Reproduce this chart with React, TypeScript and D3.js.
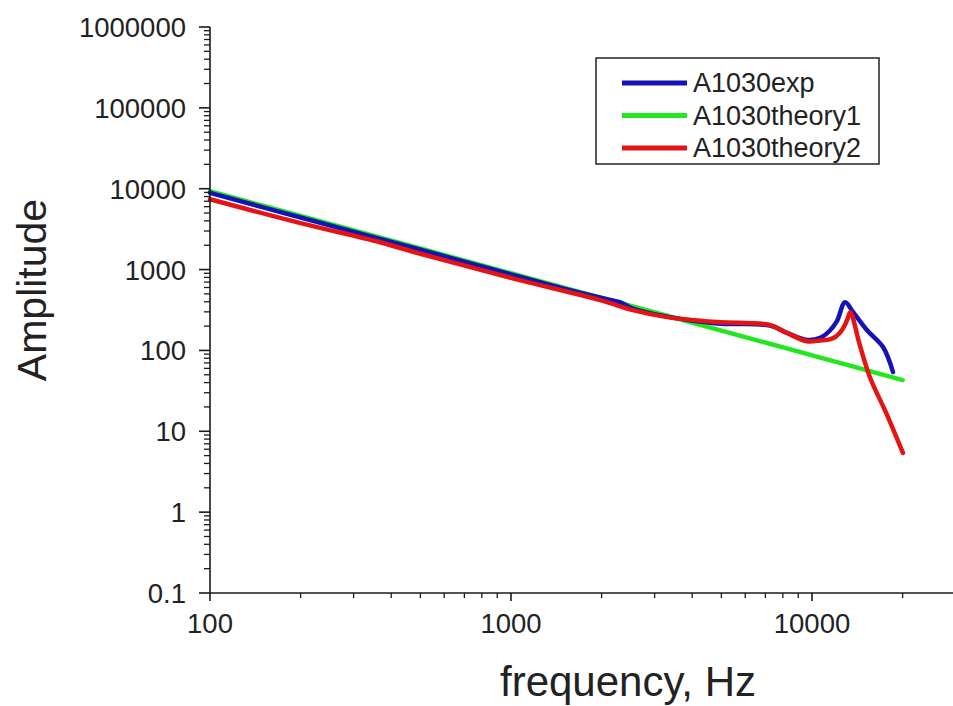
import React from "react";
import * as d3 from "d3";

// ---- data ----
const freqExp = [100, 200, 500, 1000, 1500, 2000, 2300, 2540, 3300, 4830, 7250, 8260, 9620, 10640, 11450, 12100, 12880, 13680, 15240, 17220, 18580];
const ampExp = [8900, 4400, 1760, 870, 580, 445, 395, 330, 262, 215, 203, 165, 135, 143, 175, 230, 395, 300, 178, 110, 54];

const freqTheory1 = [100, 200, 500, 1000, 2000, 5000, 10000, 20000];
const ampTheory1 = [9300, 4600, 1820, 900, 445, 176, 87, 43];

const freqTheory2 = [100, 200, 367, 500, 1000, 1980, 2540, 3300, 4830, 7250, 8260, 9620, 10640, 11450, 12000, 12600, 13100, 13400, 14400, 15600, 17750, 20050];
const ampTheory2 = [7400, 3750, 2180, 1570, 790, 419, 315, 258, 224, 206, 164, 130, 133, 137, 148, 180, 240, 297, 118, 46, 16, 5.4];

const seriesNames = ["A1030exp", "A1030theory1", "A1030theory2"];
const seriesColors = ["#1414b4", "#22e61e", "#e41414"];

const yTickValues = [0.1, 1, 10, 100, 1000, 10000, 100000, 1000000];
const yTickLabels = ["0.1", "1", "10", "100", "1000", "10000", "100000", "1000000"];
const xTickValues = [100, 1000, 10000];
const xTickLabels = ["100", "1000", "10000"];

const xTitle = "frequency, Hz";
const yTitle = "Amplitude";

export default function App() {
  const W = 953;
  const H = 706;
  const x = d3.scaleLog().domain([100, 30000]).range([210, 210 + 301 * Math.log10(300)]);
  const y = d3.scaleLog().domain([0.1, 1000000]).range([593, 27]);

  const series = [
    { name: seriesNames[1], color: seriesColors[1], f: freqTheory1, a: ampTheory1 },
    { name: seriesNames[0], color: seriesColors[0], f: freqExp, a: ampExp },
    { name: seriesNames[2], color: seriesColors[2], f: freqTheory2, a: ampTheory2 },
  ];

  const line = d3
    .line<[number, number]>()
    .x((d) => x(d[0]))
    .y((d) => y(d[1]))
    .curve(d3.curveCatmullRom.alpha(0.5));

  // minor ticks
  const yMinor: number[] = [];
  for (let e = -1; e < 6; e++) for (let k = 2; k <= 9; k++) yMinor.push(k * Math.pow(10, e));
  const xMinor: number[] = [];
  for (let e = 2; e < 5; e++) for (let k = 2; k <= 9; k++) {
    const v = k * Math.pow(10, e);
    if (v <= 30000) xMinor.push(v);
  }

  const axisColor = "#1a1a1a";
  const font = "'Liberation Sans', Arial, sans-serif";
  const x0 = x.range()[0];
  const y0 = y.range()[0];

  const legendRows = [0, 1, 2];

  return (
    <svg
      width={W}
      height={H}
      style={{ position: "absolute", left: 0, top: 0, background: "#fff" }}
      fontFamily={font}
    >
      <rect x={0} y={0} width={W} height={H} fill="#fff" />
      {/* data lines */}
      {series.map((s) => (
        <path
          key={s.name}
          d={line(s.f.map((f, i) => [f, s.a[i]] as [number, number])) || ""}
          fill="none"
          stroke={s.color}
          strokeWidth={4.5}
          strokeLinejoin="round"
          strokeLinecap="round"
        />
      ))}

      {/* y axis */}
      <line x1={x0} x2={x0} y1={y.range()[1]} y2={y0} stroke={axisColor} strokeWidth={1.6} />
      {yTickValues.map((v, i) => (
        <g key={"yt" + i}>
          <line x1={x0 - 11} x2={x0} y1={y(v)} y2={y(v)} stroke={axisColor} strokeWidth={1.6} />
          <text x={186} y={y(v) + 10} textAnchor="end" fontSize={27.5} fill="#222">
            {yTickLabels[i]}
          </text>
        </g>
      ))}
      {yMinor.map((v, i) => (
        <line key={"ym" + i} x1={x0 - 6} x2={x0} y1={y(v)} y2={y(v)} stroke={axisColor} strokeWidth={1.3} />
      ))}

      {/* x axis */}
      <line x1={x0} x2={x.range()[1]} y1={y0} y2={y0} stroke={axisColor} strokeWidth={1.6} />
      {xTickValues.map((v, i) => (
        <g key={"xt" + i}>
          <line x1={x(v)} x2={x(v)} y1={y0} y2={y0 + 8} stroke={axisColor} strokeWidth={1.6} />
          <text x={x(v)} y={633} textAnchor="middle" fontSize={27.5} fill="#222">
            {xTickLabels[i]}
          </text>
        </g>
      ))}
      {xMinor.map((v, i) => (
        <line key={"xm" + i} x1={x(v)} x2={x(v)} y1={y0} y2={y0 + 5} stroke={axisColor} strokeWidth={1.3} />
      ))}

      {/* axis titles */}
      <text x={628} y={696} textAnchor="middle" fontSize={42} fill="#222">
        {xTitle}
      </text>
      <text
        transform={`translate(46,290) rotate(-90)`}
        textAnchor="middle"
        fontSize={41}
        fill="#222"
      >
        {yTitle}
      </text>

      {/* legend */}
      <rect x={596} y={58} width={283} height={106} fill="#fff" stroke="#222" strokeWidth={1.5} />
      {legendRows.map((r) => (
        <g key={"lg" + r}>
          <line
            x1={622}
            x2={687}
            y1={83 + r * 32.5}
            y2={83 + r * 32.5}
            stroke={seriesColors[r]}
            strokeWidth={5}
          />
          <text x={693} y={83 + r * 32.5 + 9} fontSize={27} fill="#222">
            {seriesNames[r]}
          </text>
        </g>
      ))}
    </svg>
  );
}
